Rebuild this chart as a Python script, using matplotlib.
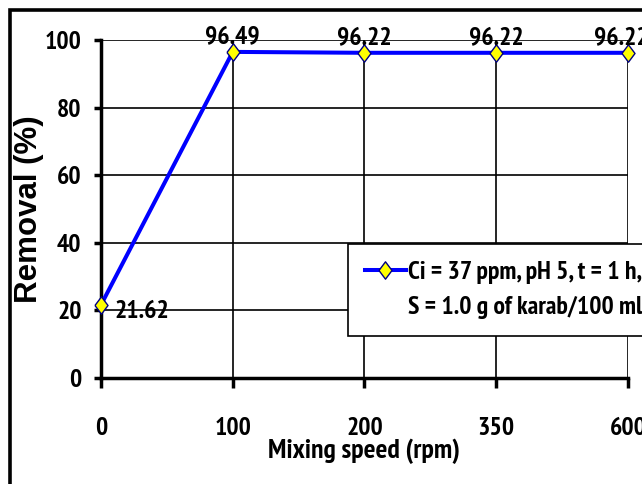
import matplotlib
matplotlib.use("Agg")
import matplotlib.pyplot as plt
from matplotlib.patches import Rectangle
from matplotlib.lines import Line2D

# data
speeds = ["0", "100", "200", "350", "600"]
removal = [21.62, 96.49, 96.22, 96.22, 96.22]
value_labels = ["21.62", "96.49", "96.22", "96.22", "96.22"]
legend_lines = ["Ci = 37 ppm, pH 5, t = 1 h,", "S = 1.0 g of karab/100 ml"]

NARROW = ["PT Sans Narrow", "Roboto Condensed", "DejaVu Sans"]
WIDE = ["Liberation Sans", "DejaVu Sans"]
FS = 18.5

fig = plt.figure(figsize=(6.42, 4.84), dpi=100)
ax = fig.add_axes([0.1573, 0.219, 0.8209, 0.6983])

x = list(range(len(speeds)))
diamond = [(-0.75, 0), (0, 1), (0.75, 0), (0, -1), (-0.75, 0)]
style = dict(color="#0000FF", lw=2.9, marker=diamond, markersize=12.5,
             markerfacecolor="#FFFF00", markeredgecolor="#000080", markeredgewidth=1.0)
ax.plot(x, removal, zorder=5, clip_on=False, **style)

# value labels
for i, (xi, yi, lab) in enumerate(zip(x, removal, value_labels)):
    if i == 0:
        ax.annotate(lab, (xi, yi), xytext=(10, -5), textcoords="offset points",
                    ha="left", va="center", fontsize=FS, fontweight="bold",
                    family=NARROW, zorder=6)
    else:
        dx = -5 if i == len(x) - 1 else 0
        ax.annotate(lab, (xi, yi), xytext=(dx, 11), textcoords="offset points",
                    ha="center", va="center", fontsize=FS, fontweight="bold",
                    family=NARROW, zorder=6, annotation_clip=False)

ax.set_xlim(0, len(speeds) - 1)
ax.set_ylim(0, 100)
ax.set_xticks(x)
ax.set_xticklabels(speeds)
ax.set_yticks([0, 20, 40, 60, 80, 100])

ax.grid(True, color="black", lw=1.2)
ax.set_axisbelow(True)
for s in ["top", "right"]:
    ax.spines[s].set_visible(False)
for s in ["left", "bottom"]:
    ax.spines[s].set_linewidth(2.5)

ax.tick_params(axis="y", length=5, width=2.5, pad=9)
ax.tick_params(axis="x", length=7, width=2.5, pad=21)
for lab in ax.get_xticklabels() + ax.get_yticklabels():
    lab.set_fontsize(FS)
    lab.set_fontweight("bold")
    lab.set_family(NARROW)

ax.set_xlabel("Mixing speed (rpm)", fontsize=20, fontweight="bold", family=NARROW)
ax.xaxis.set_label_coords(0.5, -0.18)
ax.set_ylabel("Removal (%)", fontsize=22.5, fontweight="bold", family=WIDE)
ax.yaxis.set_label_coords(-0.108, 0.5)

handle = Line2D([], [], **style)
blank = Line2D([], [], color="none")
leg = fig.legend([handle, blank], legend_lines, loc="upper left",
                 bbox_to_anchor=(348 / 642, 1 - 244 / 484),
                 prop={"family": NARROW, "weight": "bold", "size": FS},
                 frameon=True, fancybox=False, edgecolor="black", framealpha=1,
                 handlelength=1.6, handletextpad=0.1, borderpad=0.65,
                 borderaxespad=0, labelspacing=0.48)
leg.get_frame().set_linewidth(1.2)

# outer chart frame, cut off at the right and bottom
fig.add_artist(Rectangle((10.5 / 642, -0.1), 1.2, 1 - 9.5 / 484 + 0.1,
                         transform=fig.transFigure, fill=False,
                         edgecolor="black", lw=2.6, clip_on=False))

fig.savefig("out.png", dpi=100)
